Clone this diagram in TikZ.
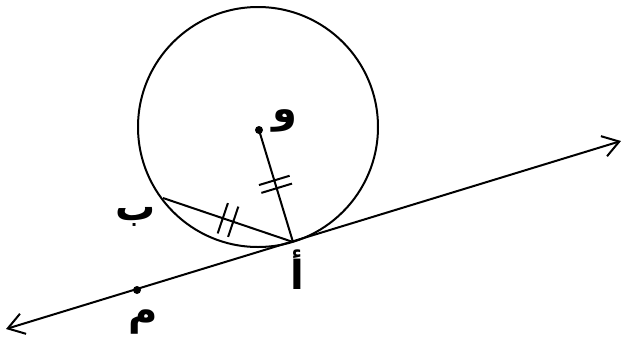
\documentclass[tikz,border=0pt]{standalone}
\usepackage{fontspec}
\usetikzlibrary{arrows.meta, calc, positioning}
\newfontfamily\arabicfont[Script=Arabic]{DejaVu Sans}
\TeXXeTstate=1

\begin{document}
\begin{tikzpicture}[x=1pt, y=-1pt, line width=2pt,
    every node/.style={font=\arabicfont\bfseries\fontsize{40}{44}\selectfont, inner sep=0pt},
    dot/.style={circle, fill, inner sep=0pt, minimum size=8pt}]
  \useasboundingbox (0,0) rectangle (622,341);
  % points
  \coordinate (O) at (259,130);
  \coordinate (A) at (293,242);
  \coordinate (B) at (163,198);
  \coordinate (M) at (137,290);
  \coordinate (lineL) at (6,329);
  \coordinate (lineR) at (621,141);

  \draw (258,127) circle[radius=120];
  \draw[{Straight Barb[length=16pt,width=21pt]}-{Straight Barb[length=16pt,width=21pt]}]
    (lineL) -- (lineR);
  \draw (O) -- (A);
  \draw (B) -- (A);

  % equal marks
  \foreach \s/\e/\p in {O/A/0.45, O/A/0.52, B/A/0.46, B/A/0.54}{
    \coordinate (t) at ($(\s)!\p!(\e)$);
    \draw ($(t)!16pt!90:(\e)$) -- ($(t)!16pt!-90:(\e)$);
  }

  \node[dot] (dotO) at (O) {};
  \node[dot] (dotM) at (M) {};

  \node (lblO) at (285,121) {\beginR و\endR};
  \node (lblB) at (136,217) {\beginR ب\endR};
  \node (lblA) at (297,270) {\beginR أ\endR};
  \node (lblM) at (143,322) {\beginR م\endR};
\end{tikzpicture}
\end{document}
